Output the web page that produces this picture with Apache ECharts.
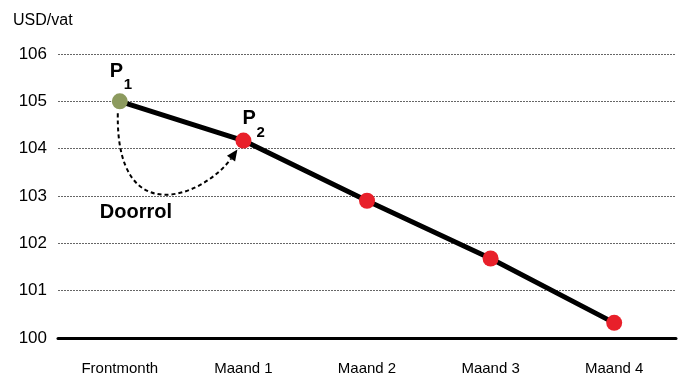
<!DOCTYPE html>
<html><head><meta charset="utf-8">
<script src="https://cdn.jsdelivr.net/npm/echarts@6/dist/echarts.min.js"></script>
<style>html,body{margin:0;padding:0;background:#fff}#c{width:681px;height:379px}</style>
</head><body><div id="c"></div>
<script>
var categories = ['Frontmonth', 'Maand 1', 'Maand 2', 'Maand 3', 'Maand 4'];
var prices = [105, 104.17, 102.9, 101.68, 100.32];
var yTicks = [100, 101, 102, 103, 104, 105, 106];
var unitLabel = 'USD/vat';
var arrowLabel = 'Doorrol';

var FONT = '"Liberation Sans", Arial, sans-serif';
var chart = echarts.init(document.getElementById('c'));
chart.setOption({
  animation: false,
  backgroundColor: '#fff',
  title: { text: unitLabel, left: 8, top: 8, textStyle: { fontFamily: FONT, fontSize: 16, fontWeight: 'normal', color: '#000' } },
  grid: { left: 58, right: 5, top: 54, bottom: 41 },
  xAxis: {
    type: 'category', data: categories, boundaryGap: true,
    axisLine: { lineStyle: { color: '#000', width: 3 } },
    axisTick: { show: false },
    axisLabel: { fontFamily: FONT, fontSize: 15, color: '#000', margin: 23 }
  },
  yAxis: {
    type: 'value', min: yTicks[0], max: yTicks[yTicks.length - 1], interval: 1,
    axisLine: { show: false }, axisTick: { show: false },
    axisLabel: { fontFamily: FONT, fontSize: 17, color: '#000', margin: 11 },
    splitLine: { lineStyle: { color: '#666', width: 1, type: [2, 1] } }
  },
  series: [{
    type: 'line', z: 3,
    data: prices.map(function (v, i) {
      return { value: v, itemStyle: { color: i === 0 ? '#8c9a5e' : '#e8202a' } };
    }),
    symbol: 'circle', symbolSize: 16,
    lineStyle: { color: '#000', width: 5 }
  }]
});

var p1 = chart.convertToPixel({ seriesIndex: 0 }, [0, prices[0]]);
var p2 = chart.convertToPixel({ seriesIndex: 0 }, [1, prices[1]]);
var S = [p1[0] - 2, p1[1] + 12];
var T = [p2[0] - 6, p2[1] + 9];
var C1 = [p1[0] - 4, p1[1] + 132];
var C2 = [p1[0] + 85, p1[1] + 94];
var dx = T[0] - C2[0], dy = T[1] - C2[1], L = Math.sqrt(dx * dx + dy * dy);
var ux = dx / L, uy = dy / L;
var hl = 11, hw = 5;
var E = [T[0] - ux * hl, T[1] - uy * hl];
var arrowPts = [T, [E[0] - uy * hw, E[1] + ux * hw], [E[0] + uy * hw, E[1] - ux * hw]];

function lbl(x, y, text, size, weight) {
  return { type: 'text', x: x, y: y, z: 10, style: { text: text, fontFamily: FONT, fontSize: size, fontWeight: weight, fill: '#000', textVerticalAlign: 'bottom' } };
}
chart.setOption({
  graphic: [
    { type: 'bezierCurve', z: 5, shape: { x1: S[0], y1: S[1], cpx1: C1[0], cpy1: C1[1], cpx2: C2[0], cpy2: C2[1], x2: E[0], y2: E[1] },
      style: { stroke: '#000', lineWidth: 2, fill: null, lineDash: [4, 3] } },
    { type: 'polygon', z: 5, shape: { points: arrowPts }, style: { fill: '#000' } },
    lbl(p1[0] - 10, p1[1] - 20, 'P', 20, 'bold'),
    lbl(p1[0] + 4, p1[1] - 9, '1', 15, 'bold'),
    lbl(p2[0] - 1, p2[1] - 12, 'P', 20, 'bold'),
    lbl(p2[0] + 13, p2[1] + 0, '2', 15, 'bold'),
    lbl(p1[0] - 20, p1[1] + 121, arrowLabel, 20, 'bold')
  ]
});
</script></body></html>
